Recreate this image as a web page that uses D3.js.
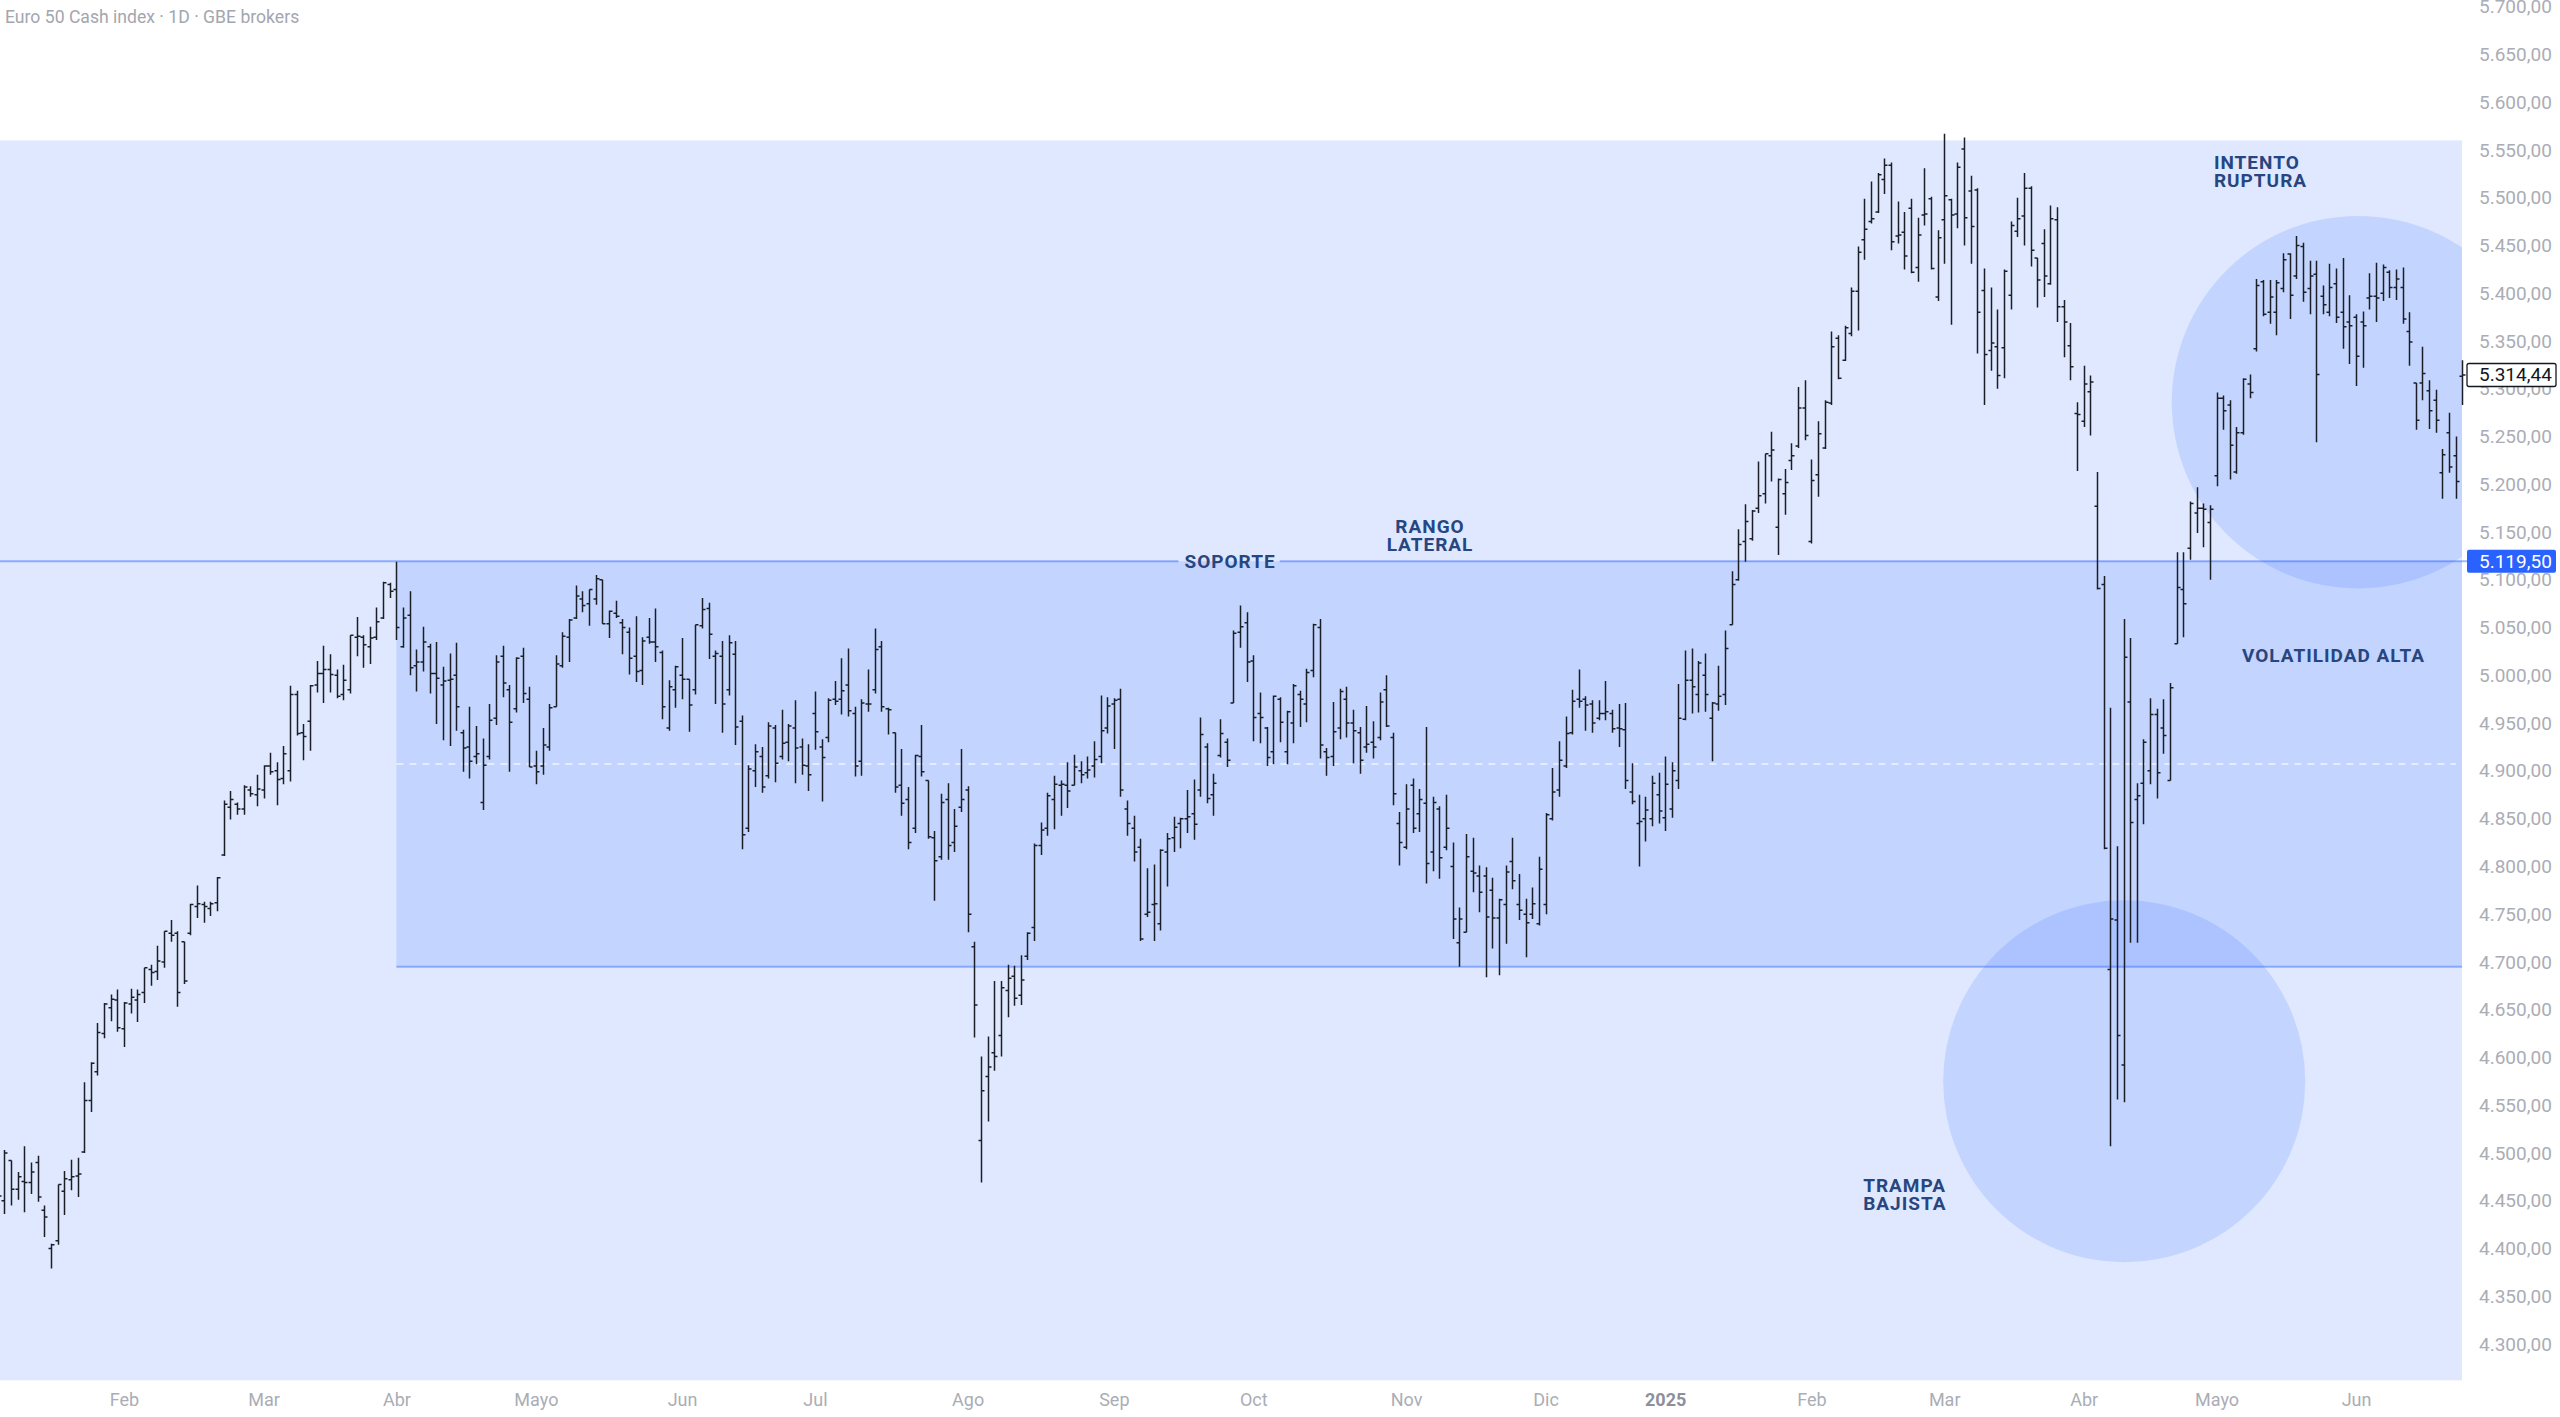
<!DOCTYPE html>
<html><head><meta charset="utf-8">
<script src="https://cdn.jsdelivr.net/npm/d3@7"></script>
<style>html,body{margin:0;padding:0;background:#fff;}svg{display:block;}</style>
</head><body>
<svg id="c" width="2560" height="1417"></svg>
<script>
const title = "Euro 50 Cash index · 1D · GBE brokers";
const firstDay = "2024-01-05", lastDay = "2025-06-24";
const holidays = ["2024-03-29","2024-04-01","2024-05-01","2024-12-24","2024-12-25","2024-12-26","2024-12-31","2025-01-01","2025-04-18","2025-04-21","2025-05-01"];
const monthLabels = ["Feb","Mar","Abr","Mayo","Jun","Jul","Ago","Sep","Oct","Nov","Dic","2025","Feb","Mar","Abr","Mayo","Jun"];
const monthStarts = ["2024-02-01","2024-03-01","2024-04-02","2024-05-02","2024-06-03","2024-07-01","2024-08-01","2024-09-02","2024-10-01","2024-11-01","2024-12-02","2025-01-02","2025-02-03","2025-03-03","2025-04-01","2025-05-02","2025-06-02"];
const yTicks = [4300,4350,4400,4450,4500,4550,4600,4650,4700,4750,4800,4850,4900,4950,5000,5050,5100,5150,5200,5250,5300,5350,5400,5450,5500,5550,5600,5650,5700];
// OHLC per trading day: [open, high, low, close]
const bars = [
[4462,4482,4440,4455],[4450,4503,4436,4500],[4492,4492,4445,4462],[4462,4480,4451,4475],[4470,4507,4438,4469],
[4469,4490,4457,4480],[4490,4497,4449,4454],[4440,4445,4412,4433],[4400,4405,4379,4404],[4408,4467,4404,4467],
[4460,4481,4435,4473],[4472,4493,4461,4475],[4476,4495,4454,4478],[4501,4574,4500,4555],[4555,4595,4543,4594],
[4585,4636,4581,4626],[4625,4657,4620,4656],[4652,4666,4638,4661],[4660,4671,4627,4631],[4630,4658,4611,4657],
[4656,4672,4646,4663],[4660,4671,4637,4666],[4668,4694,4657,4694],[4692,4697,4675,4689],[4690,4717,4681,4701],
[4700,4732,4694,4732],[4730,4744,4721,4728],[4730,4732,4653,4668],[4721,4721,4677,4680],[4730,4761,4728,4760],
[4758,4780,4746,4761],[4760,4763,4741,4758],[4756,4763,4748,4761],[4762,4789,4753,4788],[4812,4869,4811,4865],
[4862,4879,4849,4870],[4865,4867,4854,4860],[4860,4885,4854,4883],[4880,4884,4873,4876],[4875,4896,4863,4881],
[4880,4906,4871,4905],[4905,4919,4896,4899],[4900,4909,4864,4891],[4892,4926,4886,4918],[4900,4989,4889,4980],
[4980,4984,4937,4939],[4940,4949,4911,4936],[4952,4990,4921,4989],[4990,5015,4982,5002],[5002,5031,4971,5006],
[5006,5022,4982,5001],[5000,5006,4976,4978],[4980,5011,4974,4995],[4985,5042,4981,5042],[5040,5061,5020,5041],
[5040,5042,5008,5032],[5030,5051,5012,5039],[5040,5071,5037,5056],[5060,5098,5059,5097],[5095,5097,5081,5088],
[5090,5119,5037,5050],[5030,5071,5029,5060],[5063,5088,5000,5008],[5010,5027,4983,5014],[5014,5051,5004,5035],
[5030,5033,4981,5002],[5002,5035,4949,4997],[4990,5009,4932,4994],[4995,5023,4926,4996],[5000,5034,4942,4967],
[4940,4943,4899,4924],[4925,4967,4892,4910],[4915,4947,4907,4918],[4867,4934,4859,4906],[4915,4970,4912,4953],
[4955,5021,4948,5014],[5020,5031,4977,4992],[4985,4990,4899,4951],[4965,5019,4961,5018],[5020,5029,4971,4981],
[4975,4988,4904,4904],[4905,4921,4886,4899],[4905,4945,4896,4927],[4925,4970,4921,4966],[4967,5021,4967,5012],
[5010,5045,5008,5041],[5040,5059,5014,5058],[5060,5094,5059,5083],[5080,5088,5066,5073],[5075,5090,5052,5090],
[5080,5105,5074,5101],[5100,5100,5054,5054],[5054,5068,5039,5067],[5065,5078,5060,5062],[5055,5059,5022,5050],
[5045,5050,5001,5018],[5020,5062,4993,5004],[5005,5040,4990,5036],[5040,5060,5033,5035],[5035,5070,5014,5030],
[5024,5026,4954,4967],[4945,4995,4942,4988],[4985,5010,4966,5009],[5000,5039,4975,4996],[4996,4996,4941,4969],
[4985,5053,4980,5053],[5052,5081,5049,5069],[5070,5076,5017,5043],[5020,5026,4970,5023],[5020,5036,4940,4970],
[4985,5042,4979,5034],[5022,5036,4927,4946],[4952,4958,4818,4833],[4840,4906,4836,4902],[4900,4928,4883,4920],
[4915,4925,4877,4883],[4895,4951,4892,4947],[4945,4948,4888,4908],[4915,4964,4912,4929],[4930,4949,4910,4947],
[4945,4974,4887,4924],[4925,4934,4896,4906],[4905,4928,4879,4896],[4960,4983,4922,4941],[4925,4933,4868,4914],
[4935,4976,4930,4974],[4975,4994,4969,4973],[4975,5018,4959,4984],[4990,5028,4957,4963],[4960,4967,4894,4905],
[4910,4975,4895,4971],[4970,5006,4962,4970],[4985,5049,4981,5027],[5030,5036,4962,4967],[4965,4966,4938,4964],
[4940,4940,4877,4883],[4885,4923,4853,4866],[4870,4883,4818,4825],[4840,4917,4835,4916],[4915,4948,4894,4899],
[4890,4890,4829,4831],[4830,4837,4764,4806],[4810,4876,4807,4867],[4870,4887,4807,4822],[4825,4860,4815,4842],
[4862,4923,4857,4870],[4880,4884,4731,4750],[4716,4721,4621,4655],[4513,4601,4469,4565],[4580,4622,4533,4590],
[4605,4680,4586,4601],[4623,4680,4601,4673],[4670,4697,4642,4683],[4685,4696,4654,4662],[4665,4707,4655,4681],
[4706,4731,4702,4730],[4736,4824,4722,4822],[4822,4846,4812,4838],[4840,4877,4832,4874],[4870,4895,4839,4886],
[4885,4890,4853,4886],[4885,4909,4861,4879],[4885,4917,4885,4904],[4900,4910,4887,4896],[4898,4915,4892,4901],
[4905,4931,4893,4912],[4915,4979,4908,4942],[4945,4977,4939,4968],[4970,4976,4923,4974],[4975,4986,4873,4880],
[4860,4869,4832,4845],[4840,4853,4805,4815],[4820,4829,4722,4724],[4750,4798,4747,4752],[4760,4802,4722,4761],
[4740,4818,4733,4817],[4815,4835,4779,4829],[4830,4852,4815,4841],[4845,4851,4819,4850],[4850,4880,4835,4852],
[4855,4891,4828,4844],[4880,4956,4873,4938],[4925,4929,4866,4871],[4875,4897,4853,4887],[4916,4954,4914,4939],
[4930,4934,4904,4911],[4971,5047,4971,5044],[5045,5073,5029,5051],[5055,5066,4993,5014],[5015,5021,4931,4956],
[4960,4982,4929,4956],[4945,4946,4905,4914],[4920,4979,4907,4978],[4975,4977,4930,4951],[4920,4963,4907,4962],
[4950,4991,4929,4989],[4980,4984,4946,4975],[4970,5007,4951,5003],[5005,5054,4998,5053],[5050,5059,4913,4927],
[4920,4924,4895,4914],[4915,4972,4905,4941],[4945,4986,4933,4983],[4975,4988,4935,4950],[4950,4964,4908,4942],
[4940,4946,4897,4911],[4925,4968,4919,4928],[4930,4952,4913,4925],[4935,4982,4932,4972],[4985,5000,4946,4947],
[4935,4940,4864,4876],[4845,4857,4801,4825],[4820,4886,4818,4860],[4885,4892,4835,4840],[4855,4881,4836,4870],
[4866,4946,4782,4803],[4815,4873,4795,4867],[4860,4863,4787,4809],[4820,4875,4817,4840],[4800,4825,4724,4745],
[4720,4757,4695,4745],[4731,4834,4731,4810],[4795,4830,4773,4793],[4790,4801,4752,4773],[4790,4799,4684,4747],
[4775,4788,4714,4746],[4746,4766,4686,4765],[4760,4801,4719,4794],[4805,4830,4776,4785],[4760,4792,4744,4754],
[4750,4766,4705,4741],[4750,4778,4745,4761],[4740,4810,4738,4797],[4760,4856,4750,4854],[4850,4903,4848,4878],
[4880,4931,4873,4911],[4905,4957,4903,4939],[4940,4985,4938,4973],[4975,5006,4966,4973],[4975,4978,4942,4969],
[4970,4974,4940,4950],[4955,4974,4953,4960],[4960,4994,4953,4962],[4960,4964,4940,4944],[4945,4970,4925,4944],
[4943,4971,4881,4890],[4878,4908,4865,4868],[4845,4875,4800,4847],[4850,4873,4826,4859],[4850,4895,4842,4887],
[4875,4898,4845,4858],[4851,4915,4837,4886],[4860,4909,4851,4900],[4890,4991,4881,4955],[4954,5026,4953,4995],
[4995,5028,4960,4988],[4980,5015,4961,5013],[5000,5023,4962,4980],[4955,4972,4910,4971],[4970,5010,4963,4978],
[4980,5047,4969,5028],[5053,5109,5053,5095],[5100,5153,5099,5137],[5140,5179,5119,5161],[5143,5173,5141,5172],
[5175,5224,5170,5188],[5190,5232,5180,5232],[5230,5255,5203,5236],[5155,5206,5126,5205],[5190,5216,5168,5202],
[5225,5243,5215,5230],[5240,5302,5238,5280],[5280,5309,5246,5251],[5140,5226,5138,5204],[5210,5266,5187,5253],
[5238,5288,5237,5286],[5285,5360,5283,5344],[5353,5356,5310,5311],[5330,5366,5329,5364],[5358,5406,5355,5402],
[5402,5449,5361,5443],[5456,5499,5435,5467],[5475,5517,5473,5478],[5485,5526,5484,5524],[5519,5541,5504,5534],
[5534,5537,5445,5454],[5460,5496,5452,5461],[5464,5485,5425,5439],[5489,5499,5421,5422],[5427,5479,5412,5461],
[5482,5531,5471,5483],[5499,5501,5425,5426],[5396,5466,5392,5458],[5477,5567,5431,5502],[5498,5499,5367,5482],
[5483,5537,5468,5532],[5551,5563,5450,5479],[5507,5523,5431,5470],[5508,5510,5337,5380],[5403,5426,5283,5336],
[5340,5406,5319,5348],[5344,5383,5300,5314],[5343,5425,5311,5423],[5398,5475,5383,5471],[5465,5500,5459,5478],
[5481,5526,5450,5510],[5510,5512,5428,5445],[5437,5437,5385,5414],[5452,5467,5396,5418],[5410,5492,5409,5478],
[5477,5490,5370,5386],[5386,5393,5333,5370],[5345,5369,5309,5323],[5274,5286,5214,5273],[5266,5324,5260,5305],
[5297,5314,5251,5307],[5177,5213,5090,5091],[5095,5104,4818,4819],[4692,4966,4507,4745],[4744,4821,4556,4623],
[4592,5059,4553,5019],[4972,5039,4720,4846],[4870,4887,4720,4874],[4887,4933,4844,4930],[4900,4976,4886,4959],
[4959,4965,4871,4898],[4945,4975,4918,4937],[4890,4992,4890,4987],[5033,5129,5033,5092],[5090,5129,5040,5075],
[5133,5182,5121,5180],[5170,5197,5149,5175],[5175,5180,5134,5174],[5160,5178,5100,5174],[5209,5296,5198,5290],
[5290,5293,5257,5277],[5283,5288,5205,5241],[5213,5260,5211,5254],[5254,5311,5252,5310],[5305,5315,5290,5296],
[5342,5415,5339,5408],[5412,5414,5376,5378],[5380,5414,5368,5396],[5380,5414,5356,5411],[5405,5442,5401,5435],
[5441,5442,5373,5398],[5418,5460,5415,5450],[5449,5453,5391,5401],[5405,5434,5378,5418],[5420,5434,5244,5315],
[5397,5408,5378,5388],[5380,5431,5376,5406],[5410,5426,5369,5375],[5380,5437,5342,5365],[5370,5398,5326,5366],
[5375,5378,5303,5334],[5370,5381,5322,5366],[5395,5421,5383,5397],[5397,5432,5370,5395],[5400,5430,5392,5427],
[5422,5424,5395,5406],[5406,5425,5393,5415],[5406,5427,5368,5373],[5360,5380,5324,5349],[5306,5306,5257,5267],
[5306,5344,5288,5316],[5298,5309,5258,5277],[5288,5299,5254,5267],[5212,5237,5185,5231],[5254,5275,5212,5218],
[5230,5250,5185,5203],[5313,5330,5283,5314.44]
];
const supportLevel = 5119.5;
const rangeZone = {start: "2024-04-02", top: 5119.5, bottom: 4695};
const backZone = {top: 5560, bottom: 4262};
const lastPrice = 5314.44;
const circles = [
  {cx: 355.3, cy: 5286, r: 195},
  {cx: 320.1, cy: 4575, r: 189.5}
];
const notes = [
  {lines: ["INTENTO","RUPTURA"], x: 333.6, y: 5527, anchor: "start"},
  {lines: ["RANGO","LATERAL"], x: 215.6, y: 5146, anchor: "middle"},
  {lines: ["VOLATILIDAD ALTA"], x: 351.6, y: 5021, anchor: "middle"},
  {lines: ["TRAMPA","BAJISTA"], x: 280.8, y: 4457, anchor: "start"}
];
const supportText = {text: "SOPORTE", x: 185.5};

// ---- build trading calendar
const parse = d3.utcParse("%Y-%m-%d"), fmtD = d3.utcFormat("%Y-%m-%d");
const hol = new Set(holidays);
const dates = [];
for (let d = parse(firstDay); d <= parse(lastDay); d = d3.utcDay.offset(d, 1)) {
  const wd = d.getUTCDay(), s = fmtD(d);
  if (wd !== 0 && wd !== 6 && !hol.has(s)) dates.push(s);
}
const monthIdx = monthStarts.map(s => dates.indexOf(s));

const W = 2560, H = 1417, plotRight = 2462;
const svg = d3.select("#c");
const x = d3.scaleLinear().domain([0, 371]).range([-2.2, 2462.35]);
const y = d3.scaleLinear().domain([4300, 5700]).range([1344, 6.7]);

const defs = svg.append("defs");
defs.append("clipPath").attr("id","plot").append("rect").attr("x",0).attr("y",0).attr("width",plotRight).attr("height",H);
defs.append("clipPath").attr("id","bars").append("rect").attr("x",0).attr("y",0).attr("width",2466).attr("height",H);

const fillBlue = "rgba(41,98,255,0.15)";
const gZones = svg.append("g").attr("clip-path","url(#plot)");
gZones.append("rect").attr("x",0).attr("width",plotRight)
  .attr("y",y(backZone.top)).attr("height",y(backZone.bottom)-y(backZone.top)).attr("fill",fillBlue);
const rx0 = x(dates.indexOf(rangeZone.start));
gZones.append("rect").attr("x",rx0).attr("width",plotRight-rx0)
  .attr("y",y(rangeZone.top)).attr("height",y(rangeZone.bottom)-y(rangeZone.top)).attr("fill",fillBlue);
circles.forEach(c => {
  gZones.append("circle").attr("cx",x(c.cx)).attr("cy",y(c.cy)).attr("r",y(c.cy)-y(c.cy+c.r)).attr("fill",fillBlue);
});
// midline dashed
const mid = (rangeZone.top + rangeZone.bottom)/2;
gZones.append("line").attr("x1",rx0).attr("x2",plotRight-6).attr("y1",y(mid)).attr("y2",y(mid))
  .attr("stroke","rgba(255,255,255,0.75)").attr("stroke-width",1.4).attr("stroke-dasharray","7,6");
// bottom border
gZones.append("line").attr("x1",rx0).attr("x2",plotRight+4).attr("y1",y(rangeZone.bottom)).attr("y2",y(rangeZone.bottom))
  .attr("stroke","rgba(41,98,255,0.42)").attr("stroke-width",2);

// support text + line with gap
const noteFont = "700 19px Roboto, sans-serif";
const noteSpacing = "1px";
const noteColor = "#27467f";
const st = svg.append("text").attr("x",x(supportText.x)).attr("y",y(supportLevel)).attr("text-anchor","middle")
  .attr("dominant-baseline","central").style("font",noteFont).style("letter-spacing",noteSpacing)
  .attr("fill",noteColor).text(supportText.text);
const tw = st.node().getComputedTextLength();
const gapL = x(supportText.x) - tw/2 - 6, gapR = x(supportText.x) + tw/2 + 4;
const lineColor = "rgba(41,98,255,0.45)";
svg.insert("line","text").attr("x1",0).attr("x2",gapL).attr("y1",y(supportLevel)).attr("y2",y(supportLevel)).attr("stroke",lineColor).attr("stroke-width",2);
svg.insert("line","text").attr("x1",gapR).attr("x2",2470).attr("y1",y(supportLevel)).attr("y2",y(supportLevel)).attr("stroke",lineColor).attr("stroke-width",2);

// OHLC bars
const t = 3;
const path = bars.map((b,i) => {
  const cx = Math.round(x(i)) + 0.5;
  return `M${cx},${y(b[1])}V${y(b[2])}M${cx-t},${y(b[0])}H${cx}M${cx},${y(b[3])}H${cx+t}`;
}).join("");
svg.append("g").attr("clip-path","url(#bars)").append("path").attr("d",path)
  .attr("fill","none").attr("stroke","#1b1e27").attr("stroke-width",1.5);

// notes
const lineGap = 18;
notes.forEach(n => {
  const tx = svg.append("text").attr("x",x(n.x)).attr("y",y(n.y)).attr("text-anchor",n.anchor)
    .style("font",noteFont).style("letter-spacing",noteSpacing).attr("fill",noteColor);
  const off = (n.lines.length-1)/2;
  n.lines.forEach((l,k) => tx.append("tspan").attr("x",x(n.x)).attr("y",y(n.y)).attr("dy",((k-off)*lineGap)+"px")
    .attr("dominant-baseline","central").text(l));
});
svg.append("text").attr("x",5).attr("y",17).attr("dominant-baseline","central")
  .style("font","17.6px Roboto, sans-serif").attr("fill","#a3a6ae").text(title);

// axes
const locale = d3.formatLocale({decimal: ",", thousands: ".", grouping: [3], currency: ["",""]});
const fmtP = locale.format(",.2f");
const axisColor = "#aaadb5";
const gy = svg.append("g").attr("transform","translate(2479,0)")
  .call(d3.axisRight(y).tickValues(yTicks).tickSize(0).tickPadding(0).tickFormat(fmtP));
gy.select(".domain").remove();
gy.selectAll("text").attr("fill",axisColor).style("font","19px Roboto, sans-serif").attr("text-anchor","start");

const gx = svg.append("g").attr("transform","translate(0,1400)")
  .call(d3.axisBottom(x).tickValues(monthIdx).tickSize(0).tickPadding(0).tickFormat((d,i) => monthLabels[i]));
gx.select(".domain").remove();
gx.selectAll("text").attr("dy","0.35em").attr("fill",(d,i)=> monthLabels[i]==="2025" ? "#8d909a" : axisColor)
  .style("font",(d,i)=> (monthLabels[i]==="2025" ? "700 " : "") + "18px Roboto, sans-serif");

// price tags
function tag(v, bg, fg, border) {
  const g = svg.append("g");
  g.append("rect").attr("x",2467).attr("y",y(v)-11.5).attr("width",89).attr("height",23).attr("rx",2)
    .attr("fill",bg).attr("stroke",border||"none").attr("stroke-width",1.3);
  g.append("text").attr("x",2479).attr("y",y(v)).attr("dominant-baseline","central")
    .style("font","19px Roboto, sans-serif").attr("fill",fg).text(fmtP(v));
}
tag(supportLevel, "#2962ff", "#ffffff");
tag(lastPrice, "#ffffff", "#131722", "#131722");
</script>
</body></html>
